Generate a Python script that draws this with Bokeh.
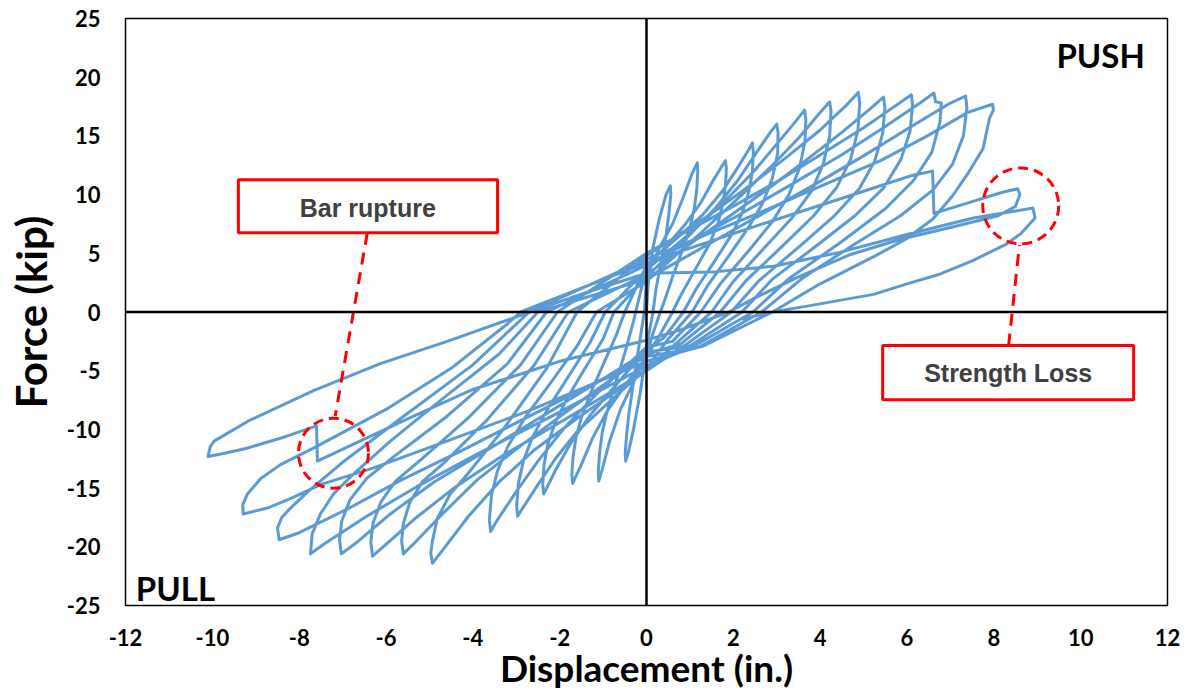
from bokeh.plotting import figure
from bokeh.models import Range1d, FixedTicker, Span
from bokeh.embed import file_html
from bokeh.resources import INLINE
from bokeh.core.properties import value

# ---- hysteresis data: displacement (in.) and force (kip), cycle by cycle ----
c1_x = [0, 0.05, 0.15, 0.3, 0.45, 0.55, 0.56, 0.52, 0.45, 0.35, 0.22, 0.15, 0.05, -0.05, -0.15, -0.3, -0.42, -0.48, -0.49, -0.46, -0.4, -0.3, -0.2, -0.1, -0.05]
c1_y = [0, 3.0, 5.5, 8.0, 10.0, 10.75, 10.0, 8.5, 6.5, 4.5, 2.0, 0, -2.0, -4.5, -7.0, -10.0, -12.0, -12.7, -12.0, -10.5, -8.5, -6.0, -3.5, -1.2, 0]

c2_x = [0, 0.3, 0.6, 0.85, 1.05, 1.17, 1.18, 1.16, 1.1, 1.0, 0.85, 0.6, 0.4, 0.32, 0.15, 0, -0.3, -0.6, -0.85, -1.02, -1.1, -1.11, -1.08, -1.02, -0.93, -0.75, -0.5, -0.3, -0.25]
c2_y = [3.0, 5.5, 7.5, 9.8, 11.8, 12.7, 12.0, 10.5, 8.8, 7.2, 5.5, 3.0, 0.8, 0, -1.8, -3.8, -6.0, -8.3, -11.0, -13.4, -14.4, -13.6, -12.0, -10.3, -8.8, -6.5, -3.5, -0.8, 0]

c3_x = [0, 0.5, 0.9, 1.25, 1.55, 1.75, 1.82, 1.84, 1.82, 1.76, 1.65, 1.45, 1.15, 0.8, 0.6, 0.3, 0, -0.5, -0.9, -1.25, -1.5, -1.65, -1.7, -1.72, -1.69, -1.62, -1.5, -1.3, -1.0, -0.7, -0.5]
c3_y = [3.8, 5.8, 7.5, 9.3, 11.3, 12.5, 12.9, 12.2, 10.8, 9.2, 7.6, 5.8, 3.8, 1.5, 0, -2.0, -3.8, -6.3, -8.4, -10.8, -13.0, -14.2, -14.6, -13.8, -12.3, -10.6, -9.0, -7.0, -4.5, -2.0, 0]

c4_x = [0, 0.7, 1.3, 1.75, 2.1, 2.35, 2.44, 2.46, 2.44, 2.36, 2.22, 1.98, 1.6, 1.15, 0.85, 0.4, 0, -0.7, -1.3, -1.75, -2.1, -2.3, -2.37, -2.39, -2.36, -2.27, -2.12, -1.85, -1.45, -1.0, -0.75]
c4_y = [4.0, 6.3, 8.3, 10.3, 12.3, 13.8, 14.4, 13.6, 12.0, 10.3, 8.6, 6.7, 4.5, 2.0, 0, -2.2, -3.2, -6.2, -8.8, -11.2, -13.5, -15.0, -15.5, -14.7, -13.0, -11.2, -9.6, -7.5, -5.0, -2.3, 0]

c5_x = [0, 0.9, 1.6, 2.1, 2.5, 2.85, 3.0, 3.03, 3.02, 2.9, 2.68, 2.35, 1.9, 1.4, 1.05, 0.5, 0, -0.9, -1.6, -2.1, -2.5, -2.85, -2.97, -2.99, -2.95, -2.83, -2.63, -2.3, -1.8, -1.3, -0.95]
c5_y = [3.0, 6.2, 8.9, 11.2, 13.4, 15.3, 16.0, 15.3, 13.5, 11.4, 9.3, 7.2, 4.8, 2.2, 0, -2.3, -4.8, -7.8, -10.2, -12.5, -14.7, -16.7, -17.4, -16.5, -14.6, -12.6, -10.7, -8.4, -5.5, -2.6, 0]

c6_x = [0, 1.1, 1.9, 2.5, 3.0, 3.45, 3.64, 3.67, 3.65, 3.52, 3.28, 2.9, 2.35, 1.7, 1.25, 0.6, 0, -1.1, -1.9, -2.5, -3.0, -3.45, -3.59, -3.62, -3.57, -3.43, -3.2, -2.8, -2.2, -1.6, -1.15]
c6_y = [3.6, 7.0, 9.8, 12.1, 14.3, 16.3, 17.2, 16.4, 14.5, 12.2, 10.0, 7.7, 5.2, 2.4, 0, -2.5, -3.0, -6.8, -9.9, -12.7, -15.3, -17.8, -18.7, -17.7, -15.6, -13.5, -11.5, -9.0, -6.0, -2.9, 0]

c7_x = [0, 1.3, 2.2, 2.9, 3.5, 4.0, 4.22, 4.25, 4.22, 4.07, 3.8, 3.35, 2.7, 2.0, 1.5, 0.7, 0, -1.5, -2.6, -3.4, -4.1, -4.7, -4.93, -4.97, -4.93, -4.82, -4.52, -4.12, -3.3, -2.3, -1.6]
c7_y = [2.6, 6.9, 10.0, 12.5, 14.8, 17.0, 17.9, 17.1, 15.0, 12.6, 10.3, 8.0, 5.4, 2.6, 0, -2.6, -5.0, -8.8, -11.8, -14.5, -17.4, -20.3, -21.4, -20.5, -19.5, -17.6, -15.5, -13.8, -10.0, -4.8, 0]

c8_x = [0, 1.5, 2.5, 3.3, 4.0, 4.6, 4.88, 4.91, 4.87, 4.7, 4.38, 3.85, 3.1, 2.3, 1.7, 0.8, 0, -1.7, -2.9, -3.9, -4.7, -5.35, -5.6, -5.64, -5.6, -5.45, -5.15, -4.65, -3.7, -2.6, -1.8]
c8_y = [4.8, 8.4, 11.1, 13.4, 15.5, 17.6, 18.7, 17.8, 15.5, 13.0, 10.6, 8.2, 5.5, 2.7, 0, -2.7, -3.6, -8.1, -11.4, -14.3, -17.2, -19.7, -20.6, -19.5, -18.0, -16.2, -14.4, -12.8, -9.3, -4.6, 0]

c9_x = [0, 1.7, 2.8, 3.7, 4.5, 5.15, 5.46, 5.49, 5.44, 5.25, 4.9, 4.3, 3.5, 2.6, 1.95, 0.9, 0, -1.9, -3.3, -4.4, -5.3, -6.0, -6.31, -6.35, -6.3, -6.12, -5.78, -5.2, -4.1, -2.9, -2.05]
c9_y = [3.2, 7.6, 10.5, 13.0, 15.3, 17.3, 18.3, 17.4, 15.2, 12.8, 10.5, 8.1, 5.5, 2.7, 0, -2.8, -5.0, -9.2, -12.2, -14.9, -17.5, -19.8, -20.8, -19.6, -18.0, -16.2, -14.4, -12.6, -9.0, -4.5, 0]

c10_x = [0, 1.9, 3.1, 4.1, 5.0, 5.75, 6.1, 6.13, 6.07, 5.86, 5.47, 4.8, 3.9, 2.9, 2.2, 1.0, 0, -2.1, -3.6, -4.9, -5.9, -6.7, -7.03, -7.07, -7.02, -6.83, -6.45, -5.85, -4.6, -3.2, -2.3]
c10_y = [5.0, 8.8, 11.3, 13.6, 15.7, 17.6, 18.5, 17.6, 15.4, 13.0, 10.6, 8.2, 5.6, 2.8, 0, -2.9, -3.4, -8.2, -11.6, -14.5, -17.2, -19.7, -20.6, -19.4, -17.8, -16.0, -14.2, -12.4, -8.9, -4.4, 0]

c11_x = [0, 2.1, 3.4, 4.5, 5.5, 6.3, 6.62, 6.66, 6.79, 6.76, 6.57, 6.15, 5.5, 4.5, 3.3, 2.45, 1.1, 0, -2.3, -3.9, -5.3, -6.4, -7.4, -7.74, -7.7, -7.51, -7.21, -6.75, -5.9, -4.7, -3.4, -2.5]
c11_y = [4.0, 8.2, 11.0, 13.4, 15.8, 17.8, 18.65, 17.9, 17.8, 16.2, 13.6, 11.2, 8.8, 6.0, 2.9, 0, -2.9, -4.6, -9.1, -12.1, -14.9, -17.3, -19.7, -20.6, -18.9, -17.2, -15.5, -13.8, -11.0, -7.4, -3.6, 0]

c12_x = [0, 2.3, 3.8, 5.0, 6.1, 6.95, 7.35, 7.38, 7.3, 7.05, 6.6, 5.85, 4.8, 3.6, 2.65, 1.2, 0, -2.5, -4.2, -5.7, -6.9, -8.0, -8.46, -8.5, -8.4, -8.2, -7.8, -7.0, -5.6, -4.0, -2.7]
c12_y = [2.8, 7.6, 10.7, 13.3, 15.8, 17.7, 18.4, 17.4, 15.0, 12.6, 10.4, 8.2, 5.8, 2.9, 0, -3.0, -3.8, -8.5, -11.7, -14.4, -16.8, -18.8, -19.4, -18.4, -17.5, -16.7, -15.3, -12.8, -8.9, -4.5, 0]

c13_x = [0, 2.5, 4.0, 5.39, 6.47, 7.4, 7.97, 7.99, 7.9, 7.75, 7.42, 7.05, 6.59, 5.97, 5.28, 4.0, 2.9, 1.3, 0, -2.7, -4.6, -6.3, -7.51, -8.2, -8.73, -9.29, -9.3, -9.19, -8.89, -8.43, -7.67, -6.0, -4.5, -3.2, -2.9]
c13_y = [4.5, 8.3, 10.7, 12.9, 15.0, 17.0, 17.7, 17.2, 16.5, 13.9, 11.9, 9.9, 7.9, 6.2, 4.8, 2.4, 0, -2.9, -4.2, -8.4, -11.0, -13.3, -14.7, -15.9, -16.7, -17.2, -16.4, -15.5, -14.2, -13.0, -11.6, -8.3, -4.8, -1.0, 0]

c14_x = [0, 2.5, 4.93, 6.08, 6.59, 6.62, 7.5, 8.2, 8.55, 8.6, 8.5, 8.1, 7.0, 5.85, 4.7, 3.5, 2.5, 1.9, 0.8, 0, -2.0, -4.0, -5.44, -6.6, -7.58, -7.6, -8.3, -9.2, -9.8, -10.1, -10.05, -9.96, -9.18, -7.67, -6.13, -4.59, -3.06, -1.52, 0]
c14_y = [4.2, 7.3, 10.2, 11.6, 12.0, 8.4, 9.4, 10.2, 10.5, 10.0, 9.0, 8.2, 7.2, 6.2, 4.9, 3.0, 1.2, 0, -1.5, -2.4, -4.2, -6.6, -9.0, -11.0, -12.7, -9.7, -10.6, -11.6, -12.1, -12.3, -11.5, -11.0, -9.3, -6.7, -4.4, -2.5, -0.5, 1.5, 3.3]

c15_x = [1.5, 2.93, 4.47, 6.0, 7.53, 8.5, 8.9, 8.95, 8.63, 8.3, 7.5, 6.77, 6.0, 5.23, 3.7, 2.9, 2.2]
c15_y = [3.4, 3.9, 5.1, 6.6, 8.0, 8.6, 8.85, 8.0, 6.7, 5.8, 4.35, 3.24, 2.4, 1.5, 0.5, 0.0, -0.6]

cycles_x = [c1_x, c2_x, c3_x, c4_x, c5_x, c6_x, c7_x, c8_x, c9_x, c10_x, c11_x, c12_x, c13_x, c14_x, c15_x]
cycles_y = [c1_y, c2_y, c3_y, c4_y, c5_y, c6_y, c7_y, c8_y, c9_y, c10_y, c11_y, c12_y, c13_y, c14_y, c15_y]

x_ticks = [-12, -10, -8, -6, -4, -2, 0, 2, 4, 6, 8, 10, 12]
y_ticks = [-25, -20, -15, -10, -5, 0, 5, 10, 15, 20, 25]

disp = [v for c in cycles_x for v in c]
force = [v for c in cycles_y for v in c]

# annotation placements (data units)
rupture_box = dict(left=-9.40, right=-3.43, top=11.26, bottom=6.74)
rupture_text = (-6.42, 8.87)
rupture_circle = (-7.21, -12.03)
rupture_leader = ([-6.43, -7.17], [6.74, -8.87])
loss_box = dict(left=5.44, right=11.22, top=-2.86, bottom=-7.47)
loss_text = (8.33, -5.16)
loss_circle = (8.62, 9.04)
loss_leader = ([8.34, 8.59], [-2.86, 5.70])

FONT = "Lato"

p = figure(width=1180, height=695, x_range=Range1d(-12, 12), y_range=Range1d(-25, 25),
           output_backend="svg", toolbar_location=None,
           min_border_left=125, min_border_right=13, min_border_top=18, min_border_bottom=90)
p.background_fill_color = "white"
p.border_fill_color = "white"
p.outline_line_color = "black"
p.outline_line_width = 1.5
p.grid.visible = False

for ax in (p.xaxis[0], p.yaxis[0]):
    ax.axis_line_color = None
    ax.major_tick_line_color = None
    ax.minor_tick_line_color = None
    ax.major_label_text_font = FONT
    ax.major_label_text_font_style = "bold"
    ax.major_label_text_font_size = "22px"
    ax.major_label_text_color = "black"
    ax.axis_label_text_font = FONT
    ax.axis_label_text_font_style = "bold"
    ax.axis_label_text_color = "black"

p.xaxis.ticker = FixedTicker(ticks=x_ticks)
p.yaxis.ticker = FixedTicker(ticks=y_ticks)
p.xaxis.major_label_overrides = {t: str(t) for t in x_ticks}
p.yaxis.major_label_overrides = {t: str(t) for t in y_ticks}
p.xaxis.axis_label = "Displacement (in.)"
p.yaxis.axis_label = "Force (kip)"
p.xaxis.axis_label_text_font_size = "37px"
p.yaxis.axis_label_text_font_size = "42px"
p.xaxis.major_label_standoff = 17
p.yaxis.major_label_standoff = 19
p.xaxis.axis_label_standoff = -4
p.yaxis.axis_label_standoff = 8

p.line(disp, force, line_color="#5B9BD5", line_width=3, line_join="round")

p.add_layout(Span(location=0, dimension="height", line_color="black", line_width=2.5))
p.add_layout(Span(location=0, dimension="width", line_color="black", line_width=2.5))

# annotations
for box, txt, label, circ, lead, sz in [
        (rupture_box, rupture_text, "Bar rupture", rupture_circle, rupture_leader, 70),
        (loss_box, loss_text, "Strength Loss", loss_circle, loss_leader, 76)]:
    p.line(lead[0], lead[1], line_color="#FF0000", line_width=3, line_dash="12 8")
    p.quad(left=[box["left"]], right=[box["right"]], top=[box["top"]], bottom=[box["bottom"]],
           fill_color="white", line_color="#FF0000", line_width=3)
    p.text(x=[txt[0]], y=[txt[1]], text=[label], text_align="center", text_baseline="middle",
           text_font=value("Liberation Sans"), text_font_style="bold", text_font_size="25px",
           text_color="#404040")
    p.scatter(x=[circ[0]], y=[circ[1]], marker="circle", size=sz, fill_color=None,
              line_color="#FF0000", line_width=3, line_dash="10 6")

p.text(x=[10.46], y=[21.9], text=["PUSH"], text_align="center", text_baseline="middle",
       text_font=value(FONT), text_font_style="bold", text_font_size="33px", text_color="black")
p.text(x=[-10.85], y=[-23.5], text=["PULL"], text_align="center", text_baseline="middle",
       text_font=value(FONT), text_font_style="bold", text_font_size="33px", text_color="black")

open("out.html", "w").write(file_html(p, INLINE))
